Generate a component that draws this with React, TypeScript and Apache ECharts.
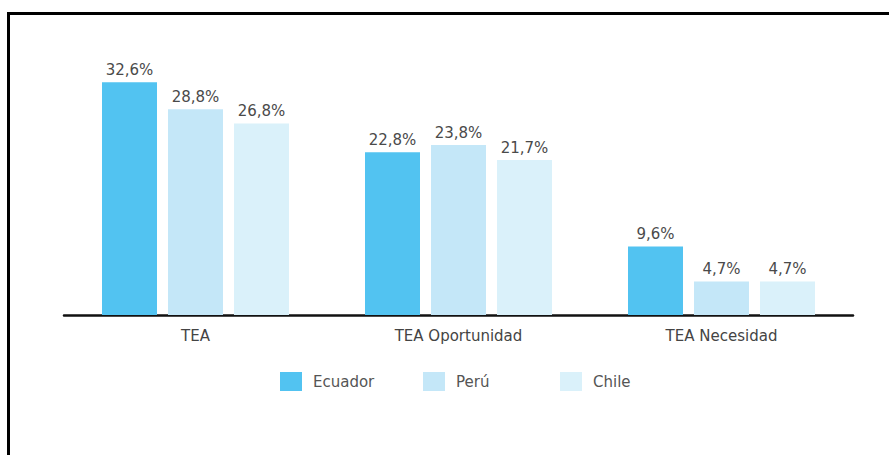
import React, { useEffect, useRef } from "react";
import * as echarts from "echarts";

const categories = ["TEA", "TEA Oportunidad", "TEA Necesidad"];
const seriesNames = ["Ecuador", "Perú", "Chile"];
const ecuador = [32.6, 22.8, 9.6];
const peru = [28.8, 23.8, 4.7];
const chile = [26.8, 21.7, 4.7];
const colors = ["#52c3f1", "#c4e7f8", "#daf1fa"];
const legendColors = ["#52c3f1", "#bde5f5", "#daf1f5"];

const FONT = "DejaVu Sans";

export default function App() {
  const ref = useRef<HTMLDivElement>(null);
  useEffect(() => {
    if (!ref.current) return;
    const chart = echarts.init(ref.current, null, { renderer: "svg" });
    const values = [ecuador, peru, chile];
    const fmt = (p: any) => String(p.value).replace(".", ",") + "%";
    chart.setOption({
      animation: false,
      backgroundColor: "#ffffff",
      grid: { left: 64, right: 36, top: 65, bottom: 140, containLabel: false },
      xAxis: {
        type: "category",
        data: categories,
        axisLine: { lineStyle: { color: "#111111", width: 2.5 } },
        axisTick: { show: false },
        axisLabel: { color: "#444444", fontFamily: FONT, fontSize: 15, margin: 13 },
      },
      yAxis: { type: "value", min: 0, max: 35, show: false },
      legend: seriesNames.map((n, i) => ({
        data: [n],
        left: [280, 423, 560][i],
        top: 372,
        padding: 0,
        icon: "rect",
        itemWidth: 22,
        itemHeight: 19,
        textStyle: { color: "#555555", fontFamily: FONT, fontSize: 15, padding: [0, 0, 0, 6] },
      })),
      series: seriesNames.map((n, i) => ({
        name: n,
        type: "bar",
        data: values[i],
        barWidth: 55,
        barGap: "20%",
        itemStyle: { color: colors[i] },
        label: {
          show: true,
          position: "top",
          distance: 5,
          formatter: fmt,
          color: "#4a4a4a",
          fontFamily: FONT,
          fontSize: 15,
        },
      })),
      color: legendColors,
      graphic: [
        {
          type: "rect",
          shape: { x: 8.5, y: 13.5, width: 900, height: 500 },
          style: { fill: "none", stroke: "#000000", lineWidth: 3 },
          silent: true,
          z: 100,
        },
      ],
    });
    return () => chart.dispose();
  }, []);
  return (
    <div
      ref={ref}
      style={{ position: "fixed", left: 0, top: 0, width: 889, height: 455 }}
    />
  );
}
